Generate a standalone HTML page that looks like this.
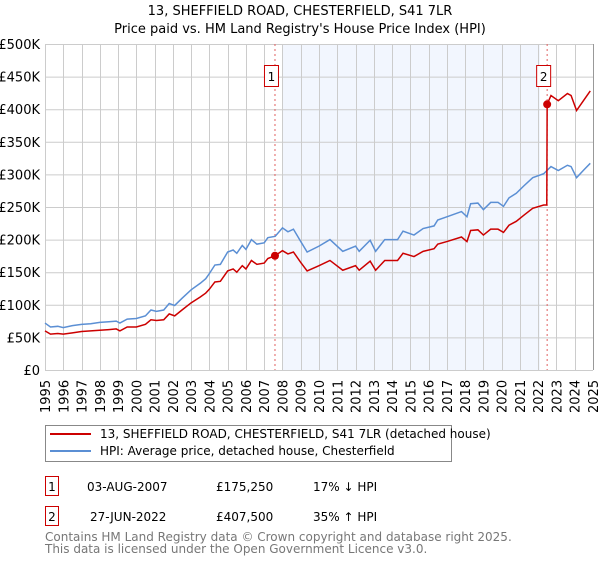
<!DOCTYPE html>
<html><head><meta charset="utf-8"><style>
body{margin:0;background:#fff;font-family:"Liberation Sans","DejaVu Sans",sans-serif;}
svg text{font-family:"DejaVu Sans","Liberation Sans",sans-serif;}
</style></head><body>
<svg id="c" width="600" height="560" xmlns="http://www.w3.org/2000/svg">
<text x="300" y="15" text-anchor="middle" font-size="13" fill="#000">13, SHEFFIELD ROAD, CHESTERFIELD, S41 7LR</text>
<text x="300" y="33" text-anchor="middle" font-size="13" fill="#000">Price paid vs. HM Land Registry's House Price Index (HPI)</text>
<g id="plot"></g>
<g>
<rect x="45.5" y="425.5" width="406" height="36" fill="#fff" stroke="#888"/>
<line x1="50" y1="434" x2="91" y2="434" stroke="#cc0000" stroke-width="2"/>
<text x="100" y="438" font-size="12">13, SHEFFIELD ROAD, CHESTERFIELD, S41 7LR (detached house)</text>
<line x1="50" y1="451" x2="91" y2="451" stroke="#5b8fd4" stroke-width="2"/>
<text x="100" y="455" font-size="12">HPI: Average price, detached house, Chesterfield</text>
</g>
<g font-size="12">
<rect x="45.5" y="476.5" width="13" height="19" fill="#fff" stroke="#cc0000"/>
<text x="52" y="491" text-anchor="middle">1</text>
<text x="87" y="491">03-AUG-2007</text>
<text x="216" y="491">£175,250</text>
<text x="313" y="491">17% ↓ HPI</text>
<rect x="45.5" y="506.5" width="13" height="19" fill="#fff" stroke="#cc0000"/>
<text x="52" y="521" text-anchor="middle">2</text>
<text x="90" y="521">27-JUN-2022</text>
<text x="216" y="521">£407,500</text>
<text x="313" y="521">35% ↑ HPI</text>
</g>
<text x="45" y="541" font-size="12" fill="#777">Contains HM Land Registry data © Crown copyright and database right 2025.</text>
<text x="45" y="553" font-size="12" fill="#777">This data is licensed under the Open Government Licence v3.0.</text>
</svg>
<script>
const yTicks=[0,50,100,150,200,250,300,350,400,450,500];
const yTickLabels=["£0","£50K","£100K","£150K","£200K","£250K","£300K","£350K","£400K","£450K","£500K"];
const xYears=[1995,1996,1997,1998,1999,2000,2001,2002,2003,2004,2005,2006,2007,2008,2009,2010,2011,2012,2013,2014,2015,2016,2017,2018,2019,2020,2021,2022,2023,2024,2025];
const hpiT=[1995.0,1995.3,1995.7,1996.0,1996.5,1997.0,1997.5,1998.0,1998.5,1998.9,1999.1,1999.5,2000.0,2000.5,2000.8,2001.1,2001.5,2001.8,2002.1,2002.5,2003.0,2003.5,2003.8,2004.0,2004.3,2004.6,2005.0,2005.3,2005.5,2005.8,2006.0,2006.3,2006.6,2007.0,2007.2,2007.6,2008.0,2008.3,2008.6,2009.0,2009.35,2010.0,2010.6,2011.3,2012.0,2012.2,2012.8,2013.1,2013.6,2014.3,2014.6,2015.2,2015.7,2016.3,2016.5,2017.0,2017.8,2018.1,2018.3,2018.7,2019.0,2019.4,2019.8,2020.1,2020.4,2020.8,2021.2,2021.7,2022.3,2022.7,2023.1,2023.6,2023.8,2024.1,2024.5,2024.85];
const hpiV=[72,66,67,65,68,70,71,73,74,75,72,78,79,83,92,90,92,102,99,110,123,133,140,148,161,162,181,184,179,191,185,200,193,195,203,205,218,212,216,197,181,190,200,182,190,182,199,182,200,200,213,207,217,221,230,235,243,235,255,256,246,257,257,251,264,271,282,295,301,312,306,314,312,295,307,317];
const priceT=[1995.0,1995.3,1995.7,1996.0,1996.5,1997.0,1997.5,1998.0,1998.5,1998.9,1999.1,1999.5,2000.0,2000.5,2000.8,2001.1,2001.5,2001.8,2002.1,2002.5,2003.0,2003.5,2003.8,2004.0,2004.3,2004.6,2005.0,2005.3,2005.5,2005.8,2006.0,2006.3,2006.6,2007.0,2007.2,2007.59,2008.0,2008.3,2008.6,2009.0,2009.35,2010.0,2010.6,2011.3,2012.0,2012.2,2012.8,2013.1,2013.6,2014.3,2014.6,2015.2,2015.7,2016.3,2016.5,2017.0,2017.8,2018.1,2018.3,2018.7,2019.0,2019.4,2019.8,2020.1,2020.4,2020.8,2021.2,2021.7,2022.3,2022.47,2022.49,2022.7,2023.1,2023.6,2023.8,2024.1,2024.5,2024.85];
const priceV=[60,55,56,55,57,59,60,61,62,63,60,66,66,70,77,76,77,86,83,92,103,112,118,124,135,136,152,155,150,160,155,168,162,164,171,175.25,183,178,181,165,152,160,168,153,160,153,167,153,168,168,179,174,182,186,193,197,204,197,214,215,207,216,216,211,222,228,237,248,253,253,407.5,421,413,424,421,398,414,428];
const saleT=[2007.59,2022.49];
const saleV=[175.25,407.5];
const saleLabels=["1","2"];

const NS="http://www.w3.org/2000/svg";
const X0=45,X1=593,Y0=370,Y1=44;
const xs=t=>X0+(t-1995)/(2025-1995)*(X1-X0);
const ys=v=>Y0-v/500*(Y0-Y1);
const g=document.getElementById('plot');
function mk(tag,attrs,parent){const e=document.createElementNS(NS,tag);for(const k in attrs)e.setAttribute(k,attrs[k]);(parent||g).appendChild(e);return e;}
let shade=mk('rect',{x:xs(2008.0),y:Y1,width:xs(2022.1)-xs(2008.0),height:Y0-Y1,fill:'#f2f6fe'});


yTicks.forEach((v,i)=>{
 const l=mk('line',{x1:X0,x2:X1,y1:ys(v)+0.5,y2:ys(v)+0.5,stroke:'#cccccc'});
 
 
 const t=mk('text',{x:40,y:ys(v)+5,'text-anchor':'end','font-size':'13',fill:'#000'});
 t.textContent=yTickLabels[i];
 
 
});
xYears.forEach(yr=>{
 const x=Math.round(xs(yr))+0.5;
 const l=mk('line',{x1:x,x2:x,y1:Y1,y2:Y0,stroke:'#cccccc'});
 
 
 const t=mk('text',{x:0,y:0,'font-size':'13',fill:'#000',transform:`translate(${xs(yr)+5},413) rotate(-90)`});
 t.textContent=String(yr);
 
 
});
const fr=mk('line',{x1:X1+0.5,x2:X1+0.5,y1:Y1,y2:Y0,stroke:'#999'});


saleT.forEach((t,i)=>{
 const l=mk('line',{x1:xs(t),x2:xs(t),y1:Y1,y2:Y0,stroke:'#e06060','stroke-dasharray':'2,3'});
 
 
});
const hp=mk('polyline',{points:hpiT.map((t,i)=>xs(t)+','+ys(hpiV[i])).join(' '),fill:'none',stroke:'#5b8fd4','stroke-width':'1.5'});


const pp=mk('polyline',{points:priceT.map((t,i)=>xs(t)+','+ys(priceV[i])).join(' '),fill:'none',stroke:'#cc0000','stroke-width':'1.5'});


saleT.forEach((t,i)=>{
 const c=mk('circle',{cx:xs(t),cy:ys(saleV[i]),r:4,fill:'#cc0000'});
 
 
 const r=mk('rect',{x:xs(t)-10.5,y:65.5,width:14,height:21,fill:'#fff',stroke:'#cc0000'});
 
 
 const tx=mk('text',{x:xs(t)-3.5,y:81,'text-anchor':'middle','font-size':'12',fill:'#000'});
 tx.textContent=saleLabels[i];
 
 
});
</script>
</body></html>
